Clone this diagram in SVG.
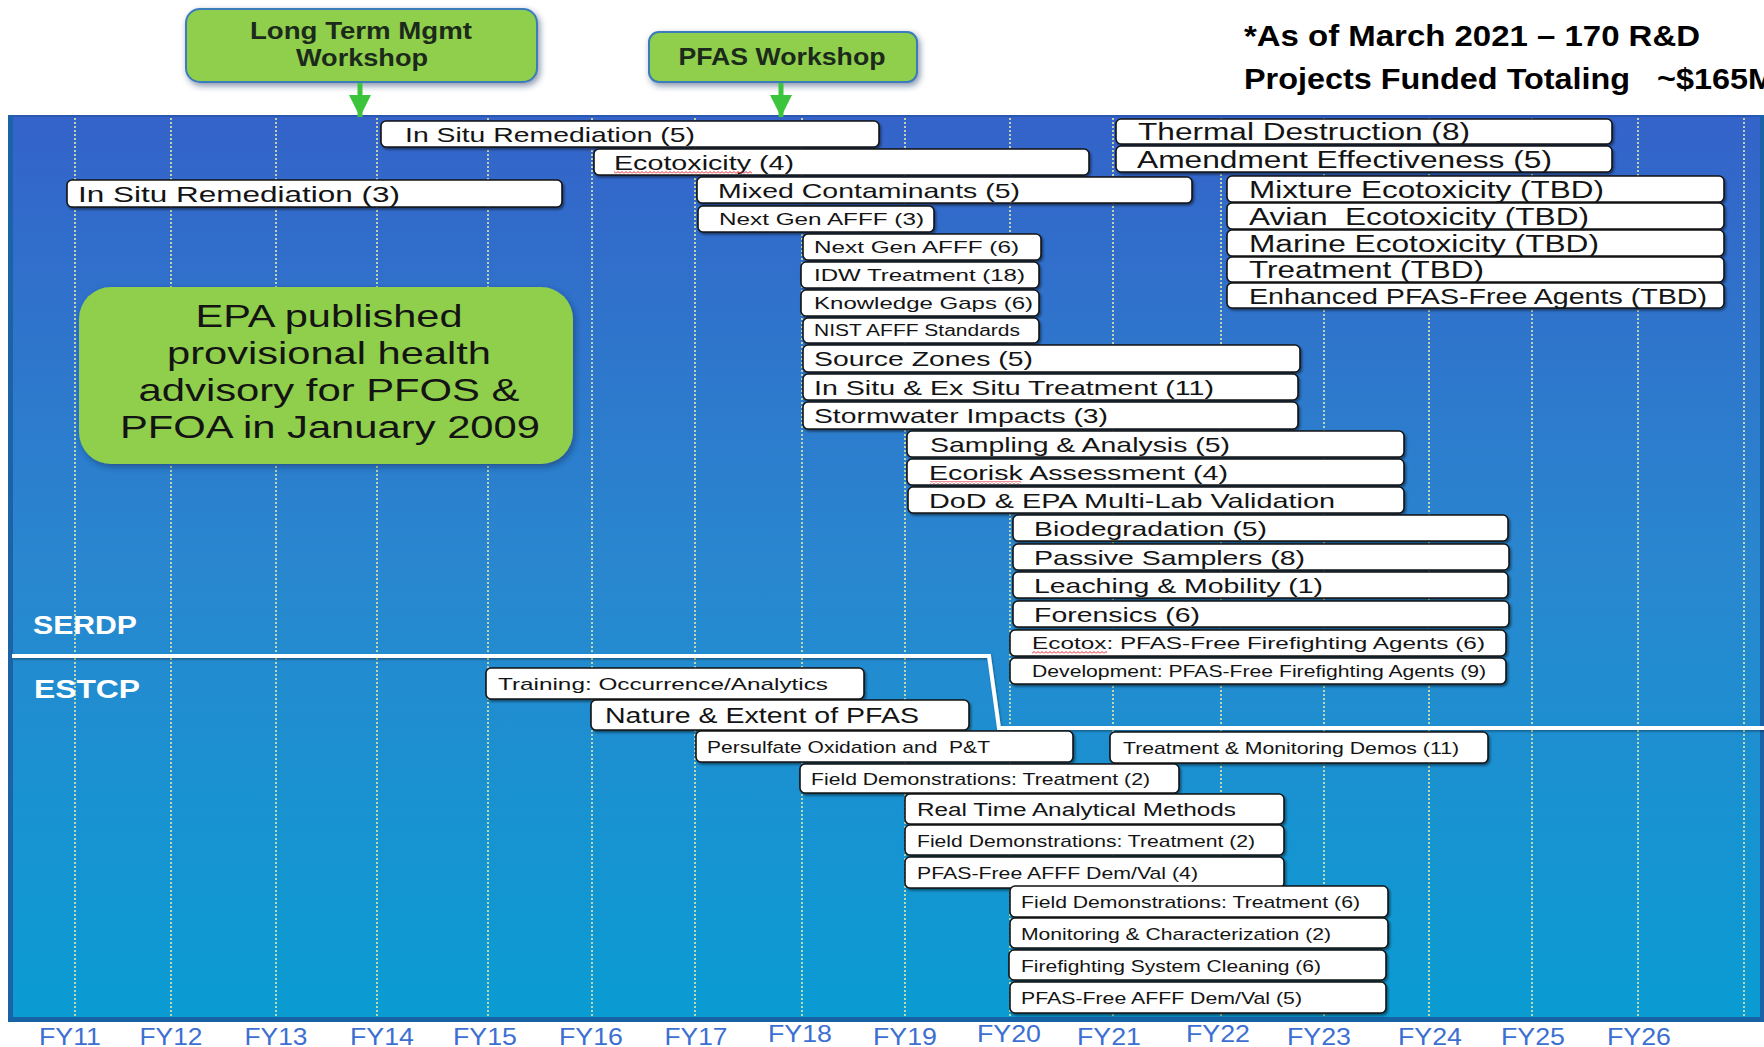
<svg xmlns="http://www.w3.org/2000/svg" width="1764" height="1047" viewBox="0 0 1764 1047">
<style>
.bar{fill:#fff;stroke:#141414;stroke-width:1.6;filter:url(#sh)}
.t{font-family:"Liberation Sans",Arial,sans-serif;fill:#141414}
.s15{font-size:16px}.s16{font-size:17px}.s17{font-size:18px}.s20{font-size:21px}.s21{font-size:22px}.s22{font-size:23px}
.grid{stroke:#e4eca4;stroke-width:1.6;stroke-dasharray:2 2}
.fy{font-family:"Liberation Sans",Arial,sans-serif;font-size:24px;fill:#3d6fd2;text-anchor:middle}
.prog{font-family:"Liberation Sans",Arial,sans-serif;font-size:25px;font-weight:bold;fill:#fff}
.gbox{fill:#8fcf4c;stroke:#3b7bbd;stroke-width:2;filter:url(#gsh)}
.gt{font-family:"Liberation Sans",Arial,sans-serif;font-weight:bold;font-size:23px;fill:#1c2a1c;text-anchor:middle}
.title{font-family:"Liberation Sans",Arial,sans-serif;font-weight:bold;font-size:30px;fill:#000;white-space:pre}
.sq{fill:url(#squig)}
</style>
<defs>
<linearGradient id="panel" x1="0" y1="0" x2="0" y2="1">
<stop offset="0" stop-color="#3463c9"/>
<stop offset="0.5" stop-color="#2987cf"/>
<stop offset="1" stop-color="#0a9cd3"/>
</linearGradient>
<filter id="sh" x="-5%" y="-20%" width="110%" height="160%">
<feDropShadow dx="1.5" dy="2" stdDeviation="1" flood-color="#000" flood-opacity="0.45"/>
</filter>
<filter id="gsh" x="-10%" y="-10%" width="120%" height="130%">
<feDropShadow dx="2" dy="3" stdDeviation="3" flood-color="#0b2a55" flood-opacity="0.5"/>
</filter>
<filter id="lsh" x="-5%" y="-50%" width="110%" height="200%">
<feDropShadow dx="1" dy="1.5" stdDeviation="1" flood-color="#000" flood-opacity="0.35"/>
</filter>
<pattern id="squig" width="4" height="3" patternUnits="userSpaceOnUse">
<path d="M0 2.5 L2 0.5 L4 2.5" fill="none" stroke="#e0202a" stroke-width="1"/>
</pattern>
<marker id="gh" viewBox="0 0 10 10" refX="10" refY="5" markerWidth="4.4" markerHeight="4.4" orient="auto" markerUnits="strokeWidth">
<path d="M0 0 L10 5 L0 10 Z" fill="#3cc53c"/>
</marker>
</defs>

<rect x="0" y="0" width="1764" height="1047" fill="#fff"/>

<g id="panel-bg">
<rect x="8" y="115" width="1756" height="907" fill="url(#panel)"/>
<rect x="8" y="115" width="1756" height="2" fill="#2a58b0"/>
<rect x="8" y="115" width="5" height="907" fill="#1b62a6"/>
<rect x="8" y="1017" width="1756" height="5" fill="#1562a4"/>
<rect x="1760" y="115" width="4" height="907" fill="#1a62a8"/>
</g>

<g id="gridlines">
<line class="grid" x1="75" y1="118" x2="75" y2="1017"/>
<line class="grid" x1="171" y1="118" x2="171" y2="1017"/>
<line class="grid" x1="276" y1="118" x2="276" y2="1017"/>
<line class="grid" x1="377" y1="118" x2="377" y2="1017"/>
<line class="grid" x1="488" y1="118" x2="488" y2="1017"/>
<line class="grid" x1="592" y1="118" x2="592" y2="1017"/>
<line class="grid" x1="695" y1="118" x2="695" y2="1017"/>
<line class="grid" x1="802" y1="118" x2="802" y2="1017"/>
<line class="grid" x1="905" y1="118" x2="905" y2="1017"/>
<line class="grid" x1="1010" y1="118" x2="1010" y2="1017"/>
<line class="grid" x1="1113" y1="118" x2="1113" y2="1017"/>
<line class="grid" x1="1221" y1="118" x2="1221" y2="1017"/>
<line class="grid" x1="1324" y1="118" x2="1324" y2="1017"/>
<line class="grid" x1="1429" y1="118" x2="1429" y2="1017"/>
<line class="grid" x1="1532" y1="118" x2="1532" y2="1017"/>
<line class="grid" x1="1638" y1="118" x2="1638" y2="1017"/>
<line class="grid" x1="1744" y1="118" x2="1744" y2="1017"/>
</g>

<g id="fy-labels">
<text class="fy" x="70" y="1045" textLength="62" lengthAdjust="spacingAndGlyphs">FY11</text>
<text class="fy" x="171" y="1045" textLength="63" lengthAdjust="spacingAndGlyphs">FY12</text>
<text class="fy" x="276" y="1045" textLength="63" lengthAdjust="spacingAndGlyphs">FY13</text>
<text class="fy" x="382" y="1045" textLength="64" lengthAdjust="spacingAndGlyphs">FY14</text>
<text class="fy" x="485" y="1045" textLength="64" lengthAdjust="spacingAndGlyphs">FY15</text>
<text class="fy" x="591" y="1045" textLength="64" lengthAdjust="spacingAndGlyphs">FY16</text>
<text class="fy" x="696" y="1045" textLength="63" lengthAdjust="spacingAndGlyphs">FY17</text>
<text class="fy" x="800" y="1042" textLength="64" lengthAdjust="spacingAndGlyphs">FY18</text>
<text class="fy" x="905" y="1045" textLength="64" lengthAdjust="spacingAndGlyphs">FY19</text>
<text class="fy" x="1009" y="1042" textLength="64" lengthAdjust="spacingAndGlyphs">FY20</text>
<text class="fy" x="1109" y="1045" textLength="64" lengthAdjust="spacingAndGlyphs">FY21</text>
<text class="fy" x="1218" y="1042" textLength="64" lengthAdjust="spacingAndGlyphs">FY22</text>
<text class="fy" x="1319" y="1045" textLength="64" lengthAdjust="spacingAndGlyphs">FY23</text>
<text class="fy" x="1430" y="1045" textLength="64" lengthAdjust="spacingAndGlyphs">FY24</text>
<text class="fy" x="1533" y="1045" textLength="64" lengthAdjust="spacingAndGlyphs">FY25</text>
<text class="fy" x="1639" y="1045" textLength="64" lengthAdjust="spacingAndGlyphs">FY26</text>
</g>

<g id="divider">
<polyline points="12,656 989,656 999,728 1764,728" fill="none" stroke="#fff" stroke-width="4" filter="url(#lsh)"/>
</g>

<g id="program-labels">
<text class="prog" x="33" y="634" textLength="104" lengthAdjust="spacingAndGlyphs">SERDP</text>
<text class="prog" x="34" y="698" textLength="106" lengthAdjust="spacingAndGlyphs">ESTCP</text>
</g>

<g id="long-term-workshop">
<rect class="gbox" x="186" y="9" width="351" height="73" rx="14"/>
<text class="gt" x="361" y="39" textLength="222" lengthAdjust="spacingAndGlyphs">Long Term Mgmt</text>
<text class="gt" x="362" y="66" textLength="132" lengthAdjust="spacingAndGlyphs">Workshop</text>
</g>
<g id="pfas-workshop">
<rect class="gbox" x="649" y="32" width="268" height="50" rx="10"/>
<text class="gt" x="782" y="65" textLength="207" lengthAdjust="spacingAndGlyphs">PFAS Workshop</text>
</g>

<g id="title">
<text class="title" x="1244" y="46" textLength="456" lengthAdjust="spacingAndGlyphs">*As of March 2021 – 170 R&amp;D</text>
<text class="title" x="1244" y="89" textLength="531" lengthAdjust="spacingAndGlyphs">Projects Funded Totaling   ~$165M</text>
</g>

<g id="connectors">
<line x1="360" y1="83" x2="360" y2="117" stroke="#3cc53c" stroke-width="5" marker-end="url(#gh)"/>
<line x1="781" y1="83" x2="781" y2="117" stroke="#3cc53c" stroke-width="5" marker-end="url(#gh)"/>
</g>

<g id="epa-advisory">
<rect x="79" y="287" width="494" height="177" rx="32" fill="#8fcf4c" filter="url(#gsh)"/>
<text class="t" x="329" y="327" font-size="32" text-anchor="middle" textLength="267" lengthAdjust="spacingAndGlyphs" fill="#1a1a1a">EPA published</text>
<text class="t" x="329" y="364" font-size="32" text-anchor="middle" textLength="324" lengthAdjust="spacingAndGlyphs" fill="#1a1a1a">provisional health</text>
<text class="t" x="329" y="401" font-size="32" text-anchor="middle" textLength="381" lengthAdjust="spacingAndGlyphs" fill="#1a1a1a">advisory for PFOS &amp;</text>
<text class="t" x="330" y="438" font-size="32" text-anchor="middle" textLength="420" lengthAdjust="spacingAndGlyphs" fill="#1a1a1a">PFOA in January 2009</text>
</g>

<g id="b1"><rect class="bar" x="381" y="121" width="498" height="26" rx="5"/><text class="t s20" x="405" y="141.5" textLength="290" lengthAdjust="spacingAndGlyphs">In Situ Remediation (5)</text></g>
<g id="b2"><rect class="bar" x="594" y="149" width="495" height="26" rx="5"/><text class="t s20" x="614" y="169.5" textLength="180" lengthAdjust="spacingAndGlyphs">Ecotoxicity (4)</text><rect class="sq" x="614" y="171" width="138" height="3"/></g>
<g id="b3"><rect class="bar" x="67" y="180" width="495" height="27" rx="5"/><text class="t s21" x="78" y="201.5" textLength="322" lengthAdjust="spacingAndGlyphs">In Situ Remediation (3)</text></g>
<g id="b4"><rect class="bar" x="697" y="177" width="495" height="26" rx="5"/><text class="t s20" x="718" y="197.5" textLength="302" lengthAdjust="spacingAndGlyphs">Mixed Contaminants (5)</text></g>
<g id="b5"><rect class="bar" x="698" y="206" width="236" height="26" rx="5"/><text class="t s16" x="719" y="225" textLength="205" lengthAdjust="spacingAndGlyphs">Next Gen AFFF (3)</text></g>
<g id="b6"><rect class="bar" x="803" y="234" width="238" height="26" rx="5"/><text class="t s16" x="814" y="253" textLength="205" lengthAdjust="spacingAndGlyphs">Next Gen AFFF (6)</text></g>
<g id="b7"><rect class="bar" x="801" y="262" width="238" height="26" rx="5"/><text class="t s16" x="814" y="281" textLength="211" lengthAdjust="spacingAndGlyphs">IDW Treatment (18)</text></g>
<g id="b8"><rect class="bar" x="801" y="290" width="238" height="26" rx="5"/><text class="t s16" x="814" y="309" textLength="219" lengthAdjust="spacingAndGlyphs">Knowledge Gaps (6)</text></g>
<g id="b9"><rect class="bar" x="803" y="318" width="236" height="25" rx="5"/><text class="t s15" x="814" y="336" textLength="206" lengthAdjust="spacingAndGlyphs">NIST AFFF Standards</text></g>
<g id="b10"><rect class="bar" x="803" y="345" width="497" height="27" rx="5"/><text class="t s20" x="814" y="366" textLength="219" lengthAdjust="spacingAndGlyphs">Source Zones (5)</text></g>
<g id="b11"><rect class="bar" x="803" y="374" width="495" height="26" rx="5"/><text class="t s20" x="814" y="394.5" textLength="400" lengthAdjust="spacingAndGlyphs">In Situ &amp; Ex Situ Treatment (11)</text></g>
<g id="b12"><rect class="bar" x="803" y="402" width="495" height="27" rx="5"/><text class="t s20" x="814" y="423" textLength="294" lengthAdjust="spacingAndGlyphs">Stormwater Impacts (3)</text></g>
<g id="b13"><rect class="bar" x="907" y="431" width="497" height="26" rx="5"/><text class="t s20" x="930" y="451.5" textLength="300" lengthAdjust="spacingAndGlyphs">Sampling &amp; Analysis (5)</text></g>
<g id="b14"><rect class="bar" x="907" y="459" width="497" height="26" rx="5"/><text class="t s20" x="929" y="479.5" textLength="299" lengthAdjust="spacingAndGlyphs">Ecorisk Assessment (4)</text><rect class="sq" x="930" y="481" width="91" height="3"/></g>
<g id="b15"><rect class="bar" x="908" y="487" width="496" height="26" rx="5"/><text class="t s20" x="929" y="507.5" textLength="406" lengthAdjust="spacingAndGlyphs">DoD &amp; EPA Multi-Lab Validation</text></g>
<g id="b16"><rect class="bar" x="1013" y="515" width="495" height="26" rx="5"/><text class="t s20" x="1034" y="535.5" textLength="233" lengthAdjust="spacingAndGlyphs">Biodegradation (5)</text></g>
<g id="b17"><rect class="bar" x="1013" y="544" width="496" height="26" rx="5"/><text class="t s20" x="1034" y="564.5" textLength="271" lengthAdjust="spacingAndGlyphs">Passive Samplers (8)</text></g>
<g id="b18"><rect class="bar" x="1013" y="572" width="495" height="26" rx="5"/><text class="t s20" x="1034" y="592.5" textLength="289" lengthAdjust="spacingAndGlyphs">Leaching &amp; Mobility (1)</text></g>
<g id="b19"><rect class="bar" x="1013" y="601" width="496" height="26" rx="5"/><text class="t s20" x="1034" y="621.5" textLength="166" lengthAdjust="spacingAndGlyphs">Forensics (6)</text></g>
<g id="b20"><rect class="bar" x="1010" y="630" width="496" height="26" rx="5"/><text class="t s16" x="1032" y="649" textLength="453" lengthAdjust="spacingAndGlyphs">Ecotox: PFAS-Free Firefighting Agents (6)</text><rect class="sq" x="1032" y="651" width="75" height="3"/></g>
<g id="b21"><rect class="bar" x="1010" y="658" width="496" height="26" rx="5"/><text class="t s15" x="1032" y="677" textLength="454" lengthAdjust="spacingAndGlyphs">Development: PFAS-Free Firefighting Agents (9)</text></g>

<g id="b22"><rect class="bar" x="1116" y="119" width="496" height="25" rx="5"/><text class="t s22" x="1138" y="139.5" textLength="332" lengthAdjust="spacingAndGlyphs">Thermal Destruction (8)</text></g>
<g id="b23"><rect class="bar" x="1116" y="146" width="496" height="26" rx="5"/><text class="t s22" x="1137" y="167.5" textLength="415" lengthAdjust="spacingAndGlyphs">Amendment Effectiveness (5)</text></g>
<g id="b24"><rect class="bar" x="1227" y="176" width="497" height="26" rx="5"/><text class="t s22" x="1249" y="197.5" textLength="355" lengthAdjust="spacingAndGlyphs">Mixture Ecotoxicity (TBD)</text></g>
<g id="b25"><rect class="bar" x="1227" y="203" width="497" height="26" rx="5"/><text class="t s22" x="1249" y="224.5" textLength="340" lengthAdjust="spacingAndGlyphs" style="white-space:pre">Avian  Ecotoxicity (TBD)</text></g>
<g id="b26"><rect class="bar" x="1227" y="230" width="497" height="26" rx="5"/><text class="t s22" x="1249" y="251.5" textLength="350" lengthAdjust="spacingAndGlyphs">Marine Ecotoxicity (TBD)</text></g>
<g id="b27"><rect class="bar" x="1227" y="257" width="497" height="25" rx="5"/><text class="t s22" x="1249" y="277.5" textLength="235" lengthAdjust="spacingAndGlyphs">Treatment (TBD)</text></g>
<g id="b28"><rect class="bar" x="1227" y="283" width="497" height="25" rx="5"/><text class="t s21" x="1249" y="303.5" textLength="458" lengthAdjust="spacingAndGlyphs">Enhanced PFAS-Free Agents (TBD)</text></g>

<g id="e1"><rect class="bar" x="486" y="668" width="378" height="31" rx="5"/><text class="t s16" x="498" y="689.5" textLength="330" lengthAdjust="spacingAndGlyphs">Training: Occurrence/Analytics</text></g>
<g id="e2"><rect class="bar" x="591" y="700" width="378" height="30" rx="5"/><text class="t s21" x="605" y="723" textLength="314" lengthAdjust="spacingAndGlyphs">Nature &amp; Extent of PFAS</text></g>
<g id="e3"><rect class="bar" x="696" y="731" width="377" height="31" rx="5"/><text class="t s16" x="707" y="752.5" textLength="283" lengthAdjust="spacingAndGlyphs" style="white-space:pre">Persulfate Oxidation and  P&amp;T</text></g>
<g id="e4"><rect class="bar" x="1110" y="732" width="378" height="31" rx="5"/><text class="t s16" x="1123" y="753.5" textLength="336" lengthAdjust="spacingAndGlyphs">Treatment &amp; Monitoring Demos (11)</text></g>
<g id="e5"><rect class="bar" x="800" y="764" width="379" height="29" rx="5"/><text class="t s16" x="811" y="784.5" textLength="339" lengthAdjust="spacingAndGlyphs">Field Demonstrations: Treatment (2)</text></g>
<g id="e6"><rect class="bar" x="905" y="794" width="379" height="30" rx="5"/><text class="t s17" x="917" y="815.5" textLength="319" lengthAdjust="spacingAndGlyphs">Real Time Analytical Methods</text></g>
<g id="e7"><rect class="bar" x="905" y="825" width="379" height="30" rx="5"/><text class="t s16" x="917" y="846.5" textLength="338" lengthAdjust="spacingAndGlyphs">Field Demonstrations: Treatment (2)</text></g>
<g id="e8"><rect class="bar" x="905" y="857" width="379" height="31" rx="5"/><text class="t s16" x="917" y="878.5" textLength="281" lengthAdjust="spacingAndGlyphs">PFAS-Free AFFF Dem/Val (4)</text></g>
<g id="e9"><rect class="bar" x="1010" y="886" width="378" height="31" rx="5"/><text class="t s16" x="1021" y="907.5" textLength="339" lengthAdjust="spacingAndGlyphs">Field Demonstrations: Treatment (6)</text></g>
<g id="e10"><rect class="bar" x="1010" y="918" width="378" height="30" rx="5"/><text class="t s16" x="1021" y="939.5" textLength="310" lengthAdjust="spacingAndGlyphs">Monitoring &amp; Characterization (2)</text></g>
<g id="e11"><rect class="bar" x="1009" y="950" width="377" height="30" rx="5"/><text class="t s16" x="1021" y="971.5" textLength="300" lengthAdjust="spacingAndGlyphs">Firefighting System Cleaning (6)</text></g>
<g id="e12"><rect class="bar" x="1010" y="982" width="376" height="31" rx="5"/><text class="t s16" x="1021" y="1003.5" textLength="281" lengthAdjust="spacingAndGlyphs">PFAS-Free AFFF Dem/Val (5)</text></g>
</svg>
